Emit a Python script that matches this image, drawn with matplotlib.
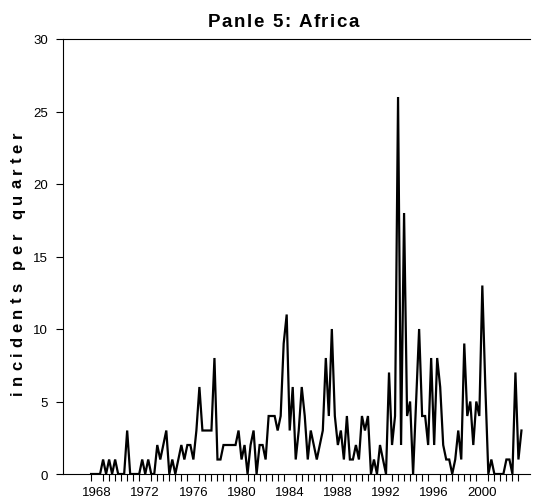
import numpy as np
import matplotlib
matplotlib.use("Agg")
import matplotlib.pyplot as plt
from matplotlib.ticker import FixedLocator
from matplotlib.font_manager import FontProperties, findfont, get_font

plt.rcParams['font.family'] = ['Liberation Sans', 'DejaVu Sans']

# Quarterly incident counts, starting mid-1967
start_year = 1967.5
incidents = [
    0, 0, 0, 0, 1, 0, 1, 0, 1, 0,
    0, 0, 3, 0, 0, 0, 0, 1, 0, 1,
    0, 0, 2, 1, 2, 3, 0, 1, 0, 1,
    2, 1, 2, 2, 1, 3, 6, 3, 3, 3,
    3, 8, 1, 1, 2, 2, 2, 2, 2, 3,
    1, 2, 0, 2, 3, 0, 2, 2, 1, 4,
    4, 4, 3, 4, 9, 11, 3, 6, 1, 3,
    6, 4, 1, 3, 2, 1, 2, 3, 8, 4,
    10, 4, 2, 3, 1, 4, 1, 1, 2, 1,
    4, 3, 4, 0, 1, 0, 2, 1, 0, 7,
    2, 4, 26, 2, 18, 4, 5, 0, 5, 10,
    4, 4, 2, 8, 2, 8, 6, 2, 1, 1,
    0, 1, 3, 1, 9, 4, 5, 2, 5, 4,
    13, 6, 0, 1, 0, 0, 0, 0, 1, 1,
    0, 7, 1, 3,
]
year_labels = [1968, 1972, 1976, 1980, 1984, 1988, 1992, 1996, 2000]
y_ticks = [0, 5, 10, 15, 20, 25, 30]
title_text = 'Panle 5: Africa'
ylabel_text = 'incidents per quarter'

W, H, DPI = 537, 502, 100
t = start_year + 0.25 * np.arange(len(incidents))

fig = plt.figure(figsize=(W / DPI, H / DPI), dpi=DPI)
ax = fig.add_axes([63 / W, 1 - 475 / H, (530 - 63) / W, (475 - 40) / H])

ax.plot(t, incidents, color='black', linewidth=1.6, solid_joinstyle='miter')

ax.set_xlim(1965.17, 2003.96)
ax.set_ylim(0, 30)

ax.set_yticks(y_ticks)
ax.set_xticks(year_labels)
ax.set_xticklabels([str(y) for y in year_labels])
ax.xaxis.set_minor_locator(FixedLocator(np.arange(1967.5, 2003.01, 0.5)))

ax.tick_params(axis='both', which='both', direction='out', color='black',
               width=0.8, labelsize=9.5, labelcolor='black')
ax.tick_params(axis='x', which='major', length=0, pad=8.6)
ax.tick_params(axis='x', which='minor', length=5)
ax.tick_params(axis='y', which='major', length=5, pad=6)

for side in ('left', 'bottom', 'top'):
    ax.spines[side].set_linewidth(0.8)
    ax.spines[side].set_color('black')
ax.spines['right'].set_visible(False)


def spaced_text(s, start_px, end_px, base_px, size, vertical=False):
    """Draw bold text letter by letter, spread evenly between two pixel positions."""
    fp = FontProperties(family='Liberation Sans', weight='bold', size=size)
    font = get_font(findfont(fp))
    font.set_size(size, DPI)
    adv = [font.load_char(ord(c)).linearHoriAdvance / 65536.0 for c in s]
    span = abs(end_px - start_px)
    gap = (span - sum(adv)) / (len(s) - 1)
    pos = 0.0
    for c, a in zip(s, adv):
        if vertical:
            x, y, rot = base_px, start_px - pos, 90
        else:
            x, y, rot = start_px + pos, base_px, 0
        fig.text(x / W, 1 - y / H, c, fontproperties=fp, rotation=rot,
                 rotation_mode='anchor', ha='left', va='baseline')
        pos += a + gap


spaced_text(title_text, 208, 359, 26.7, 13.5)
spaced_text(ylabel_text, 395, 132, 22, 12, vertical=True)

fig.savefig('out.png', dpi=DPI)
